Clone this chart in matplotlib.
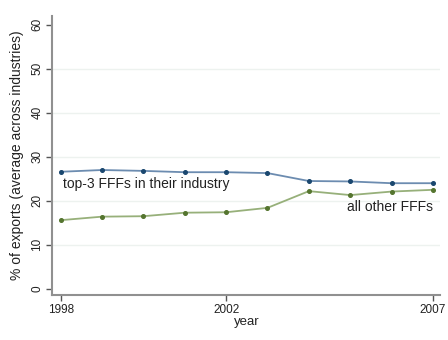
import matplotlib
matplotlib.use('Agg')
import matplotlib.pyplot as plt
import numpy as np

years = [1998, 1999, 2000, 2001, 2002, 2003, 2004, 2005, 2006, 2007]
top3 = [26.6, 27.0, 26.8, 26.5, 26.5, 26.3, 24.5, 24.4, 24.0, 24.0]
others = [15.6, 16.4, 16.5, 17.3, 17.4, 18.4, 22.2, 21.3, 22.1, 22.5]
xticks = [1998, 2002, 2007]
yticks = [0, 10, 20, 30, 40, 50, 60]

plt.rcParams['font.family'] = ['Liberation Sans', 'DejaVu Sans']

fig = plt.figure(figsize=(4.48, 3.4), dpi=100)
ax = fig.add_axes([0.117, 0.132, 0.866, 0.821])

for y in yticks[1:-1]:
    ax.axhline(y, color='#edf2ef', linewidth=1.0, zorder=0)

ax.plot(years, top3, color='#6c8cb0', linewidth=1.3, marker='o', markersize=2.6,
        markerfacecolor='#1a476f', markeredgecolor='#1a476f', zorder=3)
ax.plot(years, others, color='#97b07a', linewidth=1.3, marker='o', markersize=2.6,
        markerfacecolor='#55752f', markeredgecolor='#55752f', zorder=3)

ax.text(1998.05, 23.9, 'top-3 FFFs in their industry', fontsize=10, color='#222222',
        va='center', ha='left')
ax.text(2007.0, 18.6, 'all other FFFs', fontsize=10, color='#222222',
        va='center', ha='right')

ax.set_xlim(1997.8, 2007.18)
ax.set_ylim(-1.43, 62)
ax.set_xticks(xticks)
ax.set_yticks(yticks)
ax.set_yticklabels([str(v) for v in yticks], rotation=90, va='center')
ax.tick_params(axis='both', direction='out', length=4, width=1, color='#555555',
               labelsize=8.5, labelcolor='#222222', pad=2.5)
ax.set_xlabel('year', fontsize=9.5, color='#222222', labelpad=0)
ax.set_ylabel('% of exports (average across industries)', fontsize=10, color='#222222',
              labelpad=5)

for s in ['top', 'right']:
    ax.spines[s].set_visible(False)
for s in ['left', 'bottom']:
    ax.spines[s].set_color('#909090')
    ax.spines[s].set_linewidth(1.5)

fig.savefig('out.png', dpi=100)
